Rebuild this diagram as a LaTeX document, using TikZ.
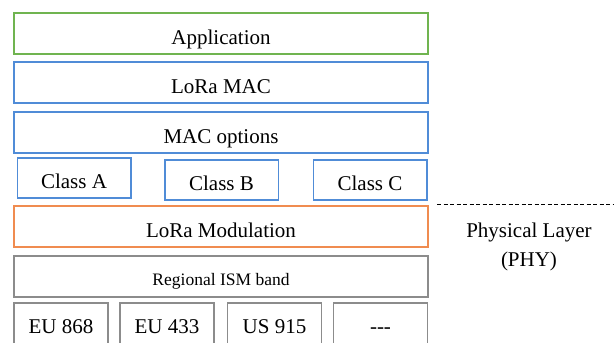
\documentclass[tikz,border=0pt]{standalone}
\usepackage{fontspec}
\setmainfont{Liberation Serif}
\usepackage{tikz}
\usepackage{xcolor}
\definecolor{appgreen}{RGB}{112,180,80}
\definecolor{macblue}{RGB}{80,140,215}
\definecolor{modorange}{RGB}{240,140,80}
\definecolor{bandgray}{RGB}{140,140,140}
\tikzset{
    layer-box/.style = {draw, fill=white, line width=1.5pt, rectangle, inner sep=0pt, text height=21pt, text depth=0pt, font=\fontsize{21}{25}\selectfont},
    wide-box/.style = {layer-box, minimum width=414pt, minimum height=41pt},
    class-box/.style = {layer-box, draw=macblue, minimum width=113.5pt, minimum height=40pt},
    region-box/.style = {layer-box, draw=bandgray, minimum width=94pt, minimum height=48pt, text height=12pt},
    side-label/.style = {anchor=base, inner sep=0pt, font=\fontsize{21}{25}\selectfont},
}

\begin{document}
\begin{tikzpicture}[x=1pt,y=-1pt]
\useasboundingbox (0,0) rectangle (614,343);
\node[wide-box, draw=appgreen] (app) at (221,33.5) {Application};
\node[wide-box, draw=macblue] (mac) at (221,82.5) {LoRa MAC};
\node[wide-box, draw=macblue] (macopt) at (221,132.5) {MAC options};
\node[class-box] (classa) at (74,178) {Class A};
\node[class-box] (classb) at (221.5,180) {Class B};
\node[class-box] (classc) at (370,180) {Class C};
\node[wide-box, draw=modorange] (loramod) at (221,226.5) {LoRa Modulation};
\node[wide-box, draw=bandgray, text height=17pt, font=\fontsize{17.5}{21}\selectfont] (ism) at (221,276.5) {Regional ISM band};
\node[region-box] (eu868) at (61,327) {EU 868};
\node[region-box] (eu433) at (167,327) {EU 433};
\node[region-box] (us915) at (274.5,327) {US 915};
\node[region-box] (other) at (380.5,327) {{-}{-}{-}};
% boundary between MAC and PHY
\coordinate (split-left) at (437,204);
\coordinate (split-right) at (614,204);
\draw[line width=1pt, dash pattern=on 4pt off 2.5pt] (split-left) -- (split-right);
\node[side-label] (phy-name) at (529,237) {Physical Layer};
\node[side-label] (phy-abbr) at (529,266) {(PHY)};
\end{tikzpicture}
\end{document}
